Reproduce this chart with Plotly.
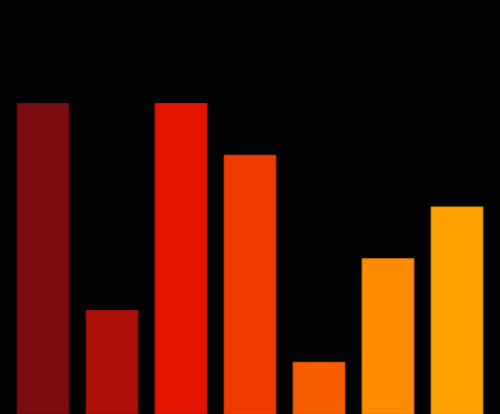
import plotly.graph_objects as go

categories = [0, 1, 2, 3, 4, 5, 6]
values = [6, 2, 6, 5, 1, 3, 4]
colors = ["#7b0d10", "#ac1008", "#e31500", "#ef3c00", "#f75e00", "#ff8c00", "#ffa200"]
outlines = ["#6a0a0c", "#950d06", "#c81200", "#d43400", "#d95000", "#e07a00", "#e08e00"]

fig = go.Figure(go.Bar(
    x=categories,
    y=values,
    width=0.75,
    marker=dict(color=colors, line=dict(color=outlines, width=1)),
))

fig.update_layout(
    width=500,
    height=414,
    margin=dict(l=0, r=0, t=0, b=0),
    paper_bgcolor="#030305",
    plot_bgcolor="#030305",
    showlegend=False,
    xaxis=dict(visible=False, range=[-0.623, 6.623]),
    yaxis=dict(visible=False, range=[0, 8]),
)

# page has a default 8px body margin, drop it so the chart fills the window
fig.write_html(
    "out.html",
    config={"displayModeBar": False},
    post_script="document.body.style.margin='0';document.body.style.background='#030305';",
)
